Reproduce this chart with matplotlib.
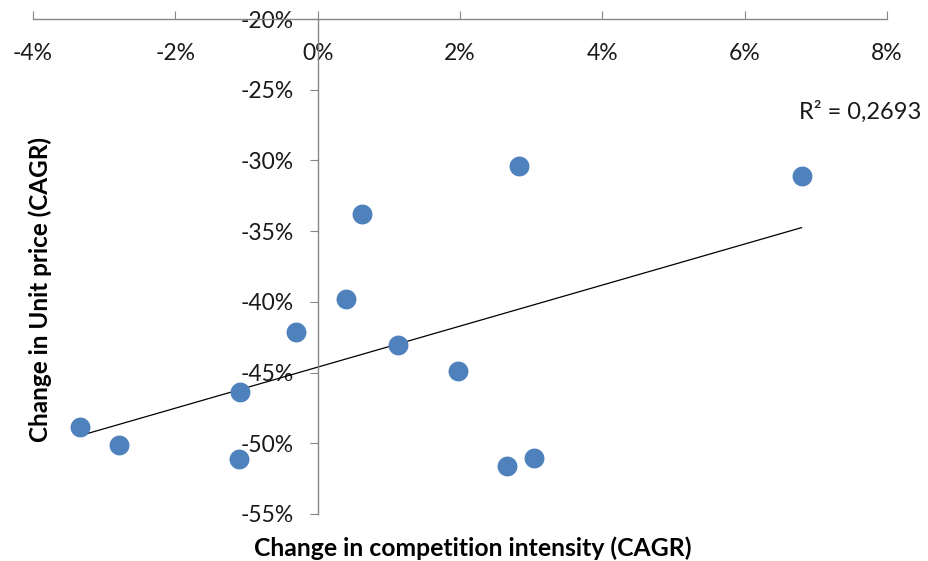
import numpy as np
import matplotlib
matplotlib.use("Agg")
import matplotlib.pyplot as plt
from matplotlib.ticker import FuncFormatter

# Data (percent)
competition_cagr = [-3.34, -2.79, -1.09, -1.11, -0.30, 0.40, 0.62, 1.13, 1.97, 2.66, 2.83, 3.04, 6.80]
unit_price_cagr = [-48.85, -50.13, -46.38, -51.12, -42.14, -39.80, -33.79, -43.05, -44.89, -51.61, -30.40, -51.05, -31.10]
r2_label = "R² = 0,2693"
x_ticks = [-4, -2, 0, 2, 4, 6, 8]
y_ticks = [-20, -25, -30, -35, -40, -45, -50, -55]

plt.rcParams['font.family'] = ['Lato', 'DejaVu Sans']

fig = plt.figure(figsize=(9.29, 5.61), dpi=100)
ax = fig.add_axes([33/929, 1-514/561, (887-33)/929, (514-19)/561])

x = np.array(competition_cagr)
y = np.array(unit_price_cagr)
ax.scatter(x, y, s=205, color='#4F81BD', zorder=3, linewidths=0)

coef = np.polyfit(x, y, 1)
xl = np.array([x.min(), x.max()])
ax.plot(xl, np.polyval(coef, xl), color='black', lw=0.9, zorder=2)

ax.set_xlim(-4, 8)
ax.set_ylim(-55, -20)
ax.set_xticks(x_ticks)
ax.set_yticks(y_ticks)
fmt = FuncFormatter(lambda v, p: f"{v:.0f}%")
ax.xaxis.set_major_formatter(fmt)
ax.yaxis.set_major_formatter(fmt)

spine_color = '#868686'
ax.spines['top'].set_visible(False)
ax.spines['right'].set_visible(False)
ax.spines['bottom'].set_position(('data', -20))
ax.spines['left'].set_position(('data', 0))
for s in ('bottom', 'left'):
    ax.spines[s].set_color(spine_color)
    ax.spines[s].set_linewidth(1.0)

ax.tick_params(axis='x', direction='in', length=6, color=spine_color, pad=17, labelsize=16.5)
ax.tick_params(axis='y', direction='out', length=6, color=spine_color, pad=11, labelsize=16.5)
for lab in ax.get_xticklabels() + ax.get_yticklabels():
    lab.set_color('#1a1a1a')
ax.patch.set_alpha(0)

ax.text(6.76, -26.58, r2_label, fontsize=17, va='center', ha='left', color='#1a1a1a')

fig.text(40/929, 1-290/561, "Change in Unit price (CAGR)", rotation=90, fontsize=17.5,
         fontweight='bold', ha='center', va='center')
fig.text(473/929, 1-548/561, "Change in competition intensity (CAGR)", fontsize=17.8,
         fontweight='bold', ha='center', va='center')

fig.savefig('out.png', dpi=100)
